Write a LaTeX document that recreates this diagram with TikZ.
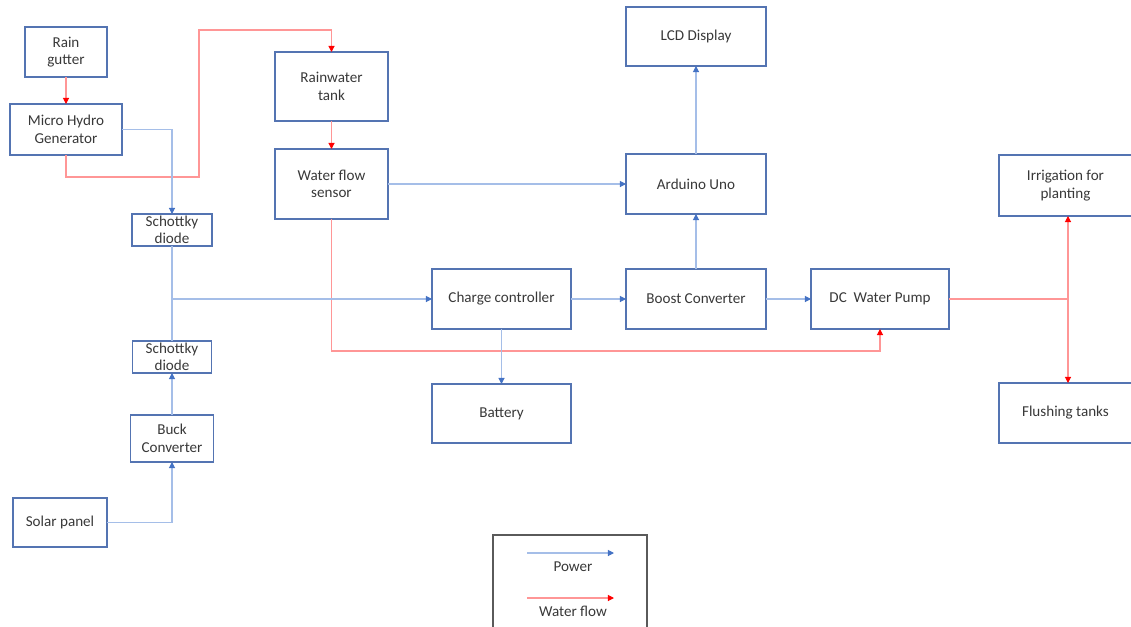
\documentclass[tikz,border=0pt]{standalone}
\usepackage{fontspec}
\setmainfont{Carlito}
\usepackage{tikz}
\usetikzlibrary{arrows.meta,positioning}
\definecolor{boxblue}{RGB}{84,116,178}
\definecolor{pwline}{RGB}{165,190,232}
\definecolor{pwtip}{RGB}{68,114,196}
\definecolor{wtline}{RGB}{255,150,150}
\definecolor{wttip}{RGB}{255,0,0}
\definecolor{txt}{RGB}{56,56,56}
\definecolor{legframe}{RGB}{90,90,90}

\begin{document}
\begin{tikzpicture}[node distance=1.1cm and 1.1cm, every node/.style={font=\fontsize{8.6}{10}\selectfont, text=txt}]
\tikzset{blk/.style={draw=boxblue, line width=0.9pt, align=center, inner sep=1pt, outer sep=0pt}}
\tikzset{big/.style={blk, minimum width=2.8cm, minimum height=1.2cm}}
\tikzset{pw/.style={draw=pwline, line width=0.6pt, -{Triangle[color=pwtip, length=3.5pt, width=3.5pt]}}}
\tikzset{pwl/.style={draw=pwline, line width=0.6pt}}
\tikzset{wt/.style={draw=wtline, line width=0.6pt, -{Triangle[color=wttip, length=3.5pt, width=3.5pt]}}}
\tikzset{wtl/.style={draw=wtline, line width=0.6pt}}
\useasboundingbox (0,0) rectangle (22.62,-12.52);
% left column
\node[blk, minimum width=1.64cm, minimum height=1.0cm] (gutter) at (1.32,-1.04) {Rain\\gutter};
\node[blk, minimum width=2.24cm, minimum height=1.02cm] (hydro) at (1.32,-2.59) {Micro Hydro\\Generator};
\node[blk, minimum width=1.6cm, minimum height=0.64cm] (diodeA) at (3.44,-4.6) {Schottky\\diode};
\node[blk, minimum width=1.58cm, minimum height=0.64cm] (diodeB) at (3.44,-7.14) {Schottky\\diode};
\node[blk, minimum width=1.66cm, minimum height=0.94cm] (buck) at (3.44,-8.77) {Buck\\Converter};
\node[blk, minimum width=1.88cm, minimum height=0.98cm] (solar) at (1.2,-10.45) {Solar panel};
% tank and sensor
\node[blk, minimum width=2.26cm, minimum height=1.38cm] (tank) at (6.63,-1.73) {Rainwater\\tank};
\node[blk, minimum width=2.26cm, minimum height=1.4cm, below=0.56cm of tank] (sensor) {Water flow\\sensor};
% middle row
\node[big, minimum width=2.78cm] (charge) at (10.03,-5.98) {Charge controller};
\node[big, right=of charge] (boost) {Boost Converter};
\node[big, minimum width=2.76cm, right=0.9cm of boost] (pump) {DC\ \ Water Pump};
\node[big, minimum width=2.78cm, minimum height=1.18cm, below=of charge] (battery) {Battery};
\node[big, above=of boost] (arduino) {Arduino Uno};
\node[big, minimum height=1.18cm, above=1.76cm of arduino] (lcd) {LCD Display};
% outlets
\node[blk, minimum width=2.66cm, minimum height=1.22cm] (irrig) at (21.31,-3.71) {Irrigation for\\planting};
\node[blk, minimum width=2.66cm, minimum height=1.2cm] (flush) at (21.31,-8.26) {Flushing tanks};
\coordinate (split) at (21.36,-5.98);

% water flow
\draw[wt] (gutter) -- (hydro);
\draw[wt] (hydro.south) -- (hydro.south |- 0,-3.54) -| (3.98,-0.6) -| (tank.north);
\draw[wt] (tank) -- (sensor);
\draw[wt] (sensor.south) -- (sensor.south |- 0,-7.02) -| (pump.south);
\draw[wtl] (pump.east) -- (split);
\draw[wt] (split) -- (split |- irrig.south);
\draw[wt] (split) -- (split |- flush.north);

% power
\draw[pw] (hydro.east) -| (diodeA.north);
\draw[pw] (diodeA.south) |- (charge.west);
\draw[pwl] (diodeB.north) -- (diodeA.south);
\draw[pw] (buck) -- (diodeB);
\draw[pw] (solar.east) -| (buck.south);
\draw[pw] (sensor.east) -- (sensor.east -| arduino.west);
\draw[pw] (charge) -- (boost);
\draw[pw] (boost) -- (pump);
\draw[pw] (boost) -- (arduino);
\draw[pw] (arduino) -- (lcd);
\draw[pw] (charge) -- (battery);

% legend
\draw[legframe, line width=0.8pt] (9.86,-10.7) rectangle (12.94,-12.8);
\coordinate (pwA) at (10.54,-11.06);
\coordinate (pwB) at (12.28,-11.06);
\coordinate (wtA) at (10.54,-11.96);
\coordinate (wtB) at (12.28,-11.96);
\draw[pw] (pwA) -- (pwB);
\draw[wt] (wtA) -- (wtB);
\node (pwlab) at (11.46,-11.34) {Power};
\node (wtlab) at (11.46,-12.22) {Water flow};
\end{tikzpicture}
\end{document}
